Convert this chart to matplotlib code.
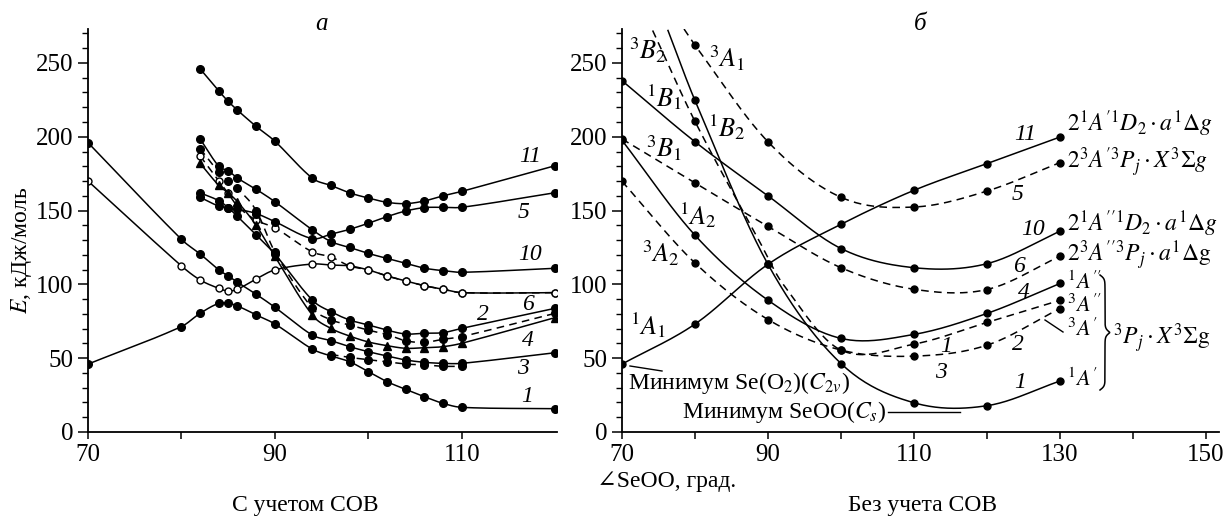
import numpy as np
import matplotlib.pyplot as plt

plt.rcParams['font.family'] = ['Liberation Serif', 'DejaVu Serif']
plt.rcParams['mathtext.fontset'] = 'stix'
plt.rcParams['font.size'] = 16

W, H = 1224, 517

# ---- panel a (с учетом СОВ) ----
a_xlong = [70, 80, 82, 84, 85, 86, 88, 90, 94, 96, 98, 100, 102, 104, 106, 108, 110, 120]
a_x = [82, 84, 85, 86, 88, 90, 94, 96, 98, 100, 102, 104, 106, 108, 110, 120]
a1 = [46, 71.4, 80.4, 87.2, 87.2, 85.4, 79.3, 73.2, 56.2, 51.5, 47.6, 40.9, 34.1, 28.9, 23.9, 19.4, 16.7, 15.8]
a3 = [196, 130.5, 120.6, 109.8, 105.7, 101.4, 93.3, 84.5, 65.7, 61.9, 57.8, 54.4, 51.5, 48.8, 47.2, 46.5, 46.5, 53.7]
a6 = [170, 112.5, 103, 97.3, 95.5, 96.7, 103.7, 109.8, 113.8, 113.1, 112.5, 109.8, 105.7, 102.4, 99.1, 96.7, 94.4, 94.4]
a6d = [187, 170, 161.7, 153, 143.4, 138.4, 122, 118.6, 112.5, 109.8, 105.7, 102.4, 99.1, 96.7, 94.4, 94.4]
a11 = [246, 231, 224, 218, 207, 197, 172, 167, 162, 158.5, 155.6, 154.7, 156.5, 160, 163, 180.4]
a5 = [159, 153, 152, 151, 148, 142.5, 131, 134, 137.3, 141.4, 145.9, 149.7, 152, 152.2, 152.2, 162.1]
a10 = [198.5, 180, 177, 172, 164.4, 156, 137, 129, 125, 121, 117.6, 114.3, 111, 109.3, 108.2, 110.9]
a2 = [162, 156.7, 152, 146, 133.5, 120.6, 89.4, 81.5, 75.9, 72.5, 69, 66.4, 66.9, 67.3, 70.2, 83.8]
a2d = [192, 176, 170, 165, 150, 122, 84, 76, 72.5, 69, 66, 61.8, 60.7, 62.8, 64.6, 80.4]
a4 = [182, 167, 162, 156, 140, 119, 79.3, 70.2, 65, 61, 58.5, 56.7, 57.1, 57.8, 60.1, 77.5]
a3d_x = [96, 98, 100, 102, 104, 106, 108, 110]
a3d = [52.5, 50.5, 49, 47.5, 46, 45.5, 44.5, 44.5]

# ---- panel b (без учета СОВ) ----
b_x = [70, 80, 90, 100, 110, 120, 130]
b11 = [46, 73.1, 113.6, 140.7, 163.7, 181.8, 199.8]
b10 = [238, 196.6, 160, 124.3, 111.3, 114, 136]
b4 = [197.6, 133.3, 89.3, 63.4, 66.1, 80.3, 100.6]
b6 = [198.5, 168.7, 139.3, 111.3, 96.7, 96.5, 119]
b2 = [169.8, 114.5, 76.2, 55.5, 51.4, 58.8, 83.6]
b5_x = [78.5, 80, 90, 100, 110, 120, 130]
b5 = [273, 262, 196.6, 159, 152.4, 163.2, 182.5]
b1_x = [76.3, 80, 90, 100, 110, 120, 130]
b1 = [272, 224.6, 113.6, 46.4, 19.8, 17.8, 34.5]
b3_x = [74.2, 80, 89, 92, 100, 110, 120, 130]
b3 = [272, 210.4, 127.6, 100.6, 55.5, 59.5, 74.2, 89.2]
b3_mark = [False, True, False, False, True, True, True, True]


def smooth(x, y, n=24):
    x = np.asarray(x, float)
    y = np.asarray(y, float)
    m = np.zeros_like(y)
    m[1:-1] = (y[2:] - y[:-2]) / (x[2:] - x[:-2])
    m[0] = (y[1] - y[0]) / (x[1] - x[0])
    m[-1] = (y[-1] - y[-2]) / (x[-1] - x[-2])
    xs, ys = [], []
    for i in range(len(x) - 1):
        h = x[i + 1] - x[i]
        t = np.linspace(0, 1, n, endpoint=(i == len(x) - 2))
        h00 = 2 * t**3 - 3 * t**2 + 1
        h10 = t**3 - 2 * t**2 + t
        h01 = -2 * t**3 + 3 * t**2
        h11 = t**3 - t**2
        xs.append(x[i] + t * h)
        ys.append(h00 * y[i] + h10 * h * m[i] + h01 * y[i + 1] + h11 * h * m[i + 1])
    return np.concatenate(xs), np.concatenate(ys)


def curve(ax, x, y, ls='-', marker='o', mfc='k', ms=5.5, mark=None):
    xs, ys = smooth(x, y)
    if ls == '-':
        ax.plot(xs, ys, color='k', lw=1.1)
    else:
        ax.plot(xs, ys, color='k', lw=1.1, dashes=(5, 3.5))
    xm = np.asarray(x, float)
    ym = np.asarray(y, float)
    if mark is not None:
        xm, ym = xm[np.array(mark)], ym[np.array(mark)]
    ax.plot(xm, ym, ls='none', marker=marker, ms=ms, mfc=mfc, mec='k', mew=1.0)


fig = plt.figure(figsize=(W / 100, H / 100), dpi=100)
axa = fig.add_axes([88 / W, 1 - 432 / H, (557 - 88) / W, (432 - 29) / H])
axb = fig.add_axes([622 / W, 1 - 432 / H, (1219 - 622) / W, (432 - 29) / H])

for ax in (axa, axb):
    for s in ('top', 'right'):
        ax.spines[s].set_visible(False)
    ax.spines['left'].set_linewidth(1.3)
    ax.spines['bottom'].set_linewidth(1.3)
    ax.set_ylim(0, 273)
    ax.set_yticks(range(0, 251, 50))
    ax.set_yticks(range(0, 271, 10), minor=True)
    ax.tick_params(axis='y', which='major', length=7, width=1.1, labelsize=18)
    ax.tick_params(axis='y', which='minor', length=4, width=1.0)
    ax.tick_params(axis='x', which='both', length=5, width=1.1, labelsize=18)

axa.set_xlim(70, 120.2)
axa.set_xticks([70, 90, 110])
axa.set_xticks([80, 100], minor=True)
axb.set_xlim(70, 151.8)
axb.set_xticks([70, 90, 110, 130, 150])
axb.set_xticks([80, 100, 120, 140], minor=True)

# panel a curves
curve(axa, a_xlong, a1)
curve(axa, a_xlong, a3)
curve(axa, a_xlong, a6, mfc='white', ms=5)
curve(axa, a_x, a6d, ls='--', mfc='white', ms=5)
curve(axa, a_x, a11)
curve(axa, a_x, a5)
curve(axa, a_x, a10)
curve(axa, a_x, a2)
curve(axa, a_x, a2d, ls='--')
curve(axa, a_x, a4, marker='^', ms=5.5)
curve(axa, a3d_x, a3d, ls='--')

# panel b curves
curve(axb, b_x, b11, ms=5)
curve(axb, b_x, b10, ms=5)
curve(axb, b_x, b4, ms=5)
curve(axb, b_x, b6, ls='--', ms=5)
curve(axb, b_x, b2, ls='--', ms=5)
curve(axb, b5_x, b5, ls='--', ms=5, mark=[False] + [True] * 6)
curve(axb, b1_x, b1, ms=5, mark=[False] + [True] * 6)
curve(axb, b3_x, b3, ls='--', ms=5, mark=b3_mark)


def px(x, y, s, **kw):
    fig.text(x / W, 1 - y / H, s, ha=kw.pop('ha', 'center'), va=kw.pop('va', 'center'), **kw)


# panel a labels
for x, y, s in [(530, 157, '11'), (524, 213, '5'), (530, 255, '10'), (528, 305, '6'),
                (483, 315, '2'), (528, 341, '4'), (523, 368, '3'), (527, 396, '1')]:
    px(x, y, s, style='italic', fontsize=17)

# panel b curve numbers
for x, y, s in [(1025, 135, '11'), (1018, 195, '5'), (1033, 230, '10'), (1019, 267, '6'),
                (1024, 292, '4'), (946, 347, '1'), (1018, 345, '2'), (941, 373, '3'), (1020, 383, '1')]:
    px(x, y, s, style='italic', fontsize=17)

# state labels, C2v
for x, y, s in [(648, 50, r'$^3B_2$'), (727, 58, r'$^3A_1$'), (664, 97, r'$^1B_1$'),
                (727, 127, r'$^1B_2$'), (664, 148, r'$^3B_1$'), (698, 215, r'$^1A_2$'),
                (661, 253, r'$^3A_2$'), (648, 325, r'$^1A_1$')]:
    px(x, y, s, fontsize=19)

# asymptote labels
for y, s in [(124, r"$2^1A^{\prime 1}D_2\cdot a^1\Delta g$"), (162, r"$2^3A^{\prime 3}P_j\cdot X^3\Sigma g$"),
             (224, r"$2^1A^{\prime\prime 1}D_2\cdot a^1\Delta g$"),
             (255, r"$2^3A^{\prime\prime 3}P_j\cdot a^1\Delta\mathrm{g}$")]:
    px(1067, y, s, ha='left', fontsize=17)
for y, s in [(283, r"$^1A^{\prime\prime}$"), (306, r"$^3A^{\prime\prime}$"), (330, r"$^3A^{\prime}$"),
             (380, r"$^1A^{\prime}$")]:
    px(1067, y, s, ha='left', fontsize=16)
px(1113, 338, r"$^3P_j\cdot X^3\Sigma\mathrm{g}$", ha='left', fontsize=17)

# brace
t = np.linspace(0, 1, 200)
bx0, bx1 = 1100, 1110
by0, by1 = 275, 390
yy = by0 + t * (by1 - by0)
k = 60.0
half = np.where(t <= 0.5,
                1 / (1 + np.exp(-k * t)) + 1 / (1 + np.exp(-k * (t - 0.5))),
                1 / (1 + np.exp(k * (t - 1))) + 1 / (1 + np.exp(k * (t - 0.5))))
xx = bx0 + (bx1 - bx0) * (half - 0.5)
fig.add_artist(plt.Line2D(xx / W, 1 - yy / H, color='k', lw=1.1))

# leaders
fig.add_artist(plt.Line2D([630 / W, 662 / W], [1 - 366 / H, 1 - 371 / H], color='k', lw=1.0))
fig.add_artist(plt.Line2D([888 / W, 960 / W], [1 - 412 / H, 1 - 412 / H], color='k', lw=1.0))
fig.add_artist(plt.Line2D([1045 / W, 1063 / W], [1 - 320 / H, 1 - 332 / H], color='k', lw=1.0))

px(628, 383, r'Минимум Se(O$_2$)($C_{2v}$)', ha='left', fontsize=17)
px(886, 412, r'Минимум SeOO($C_s$)', ha='right', fontsize=17)

# titles and axis labels
px(322, 24, 'а', style='italic', fontsize=18)
px(920, 24, 'б', style='italic', fontsize=18)
px(22, 250, r'$E$, кДж/моль', rotation=90, fontsize=17)
px(597, 481, '∠SeOO, град.', ha='left', fontsize=17)
px(305, 505, 'С учетом СОВ', fontsize=17)
px(922, 505, 'Без учета СОВ', fontsize=17)

fig.savefig('out.png', dpi=100)
